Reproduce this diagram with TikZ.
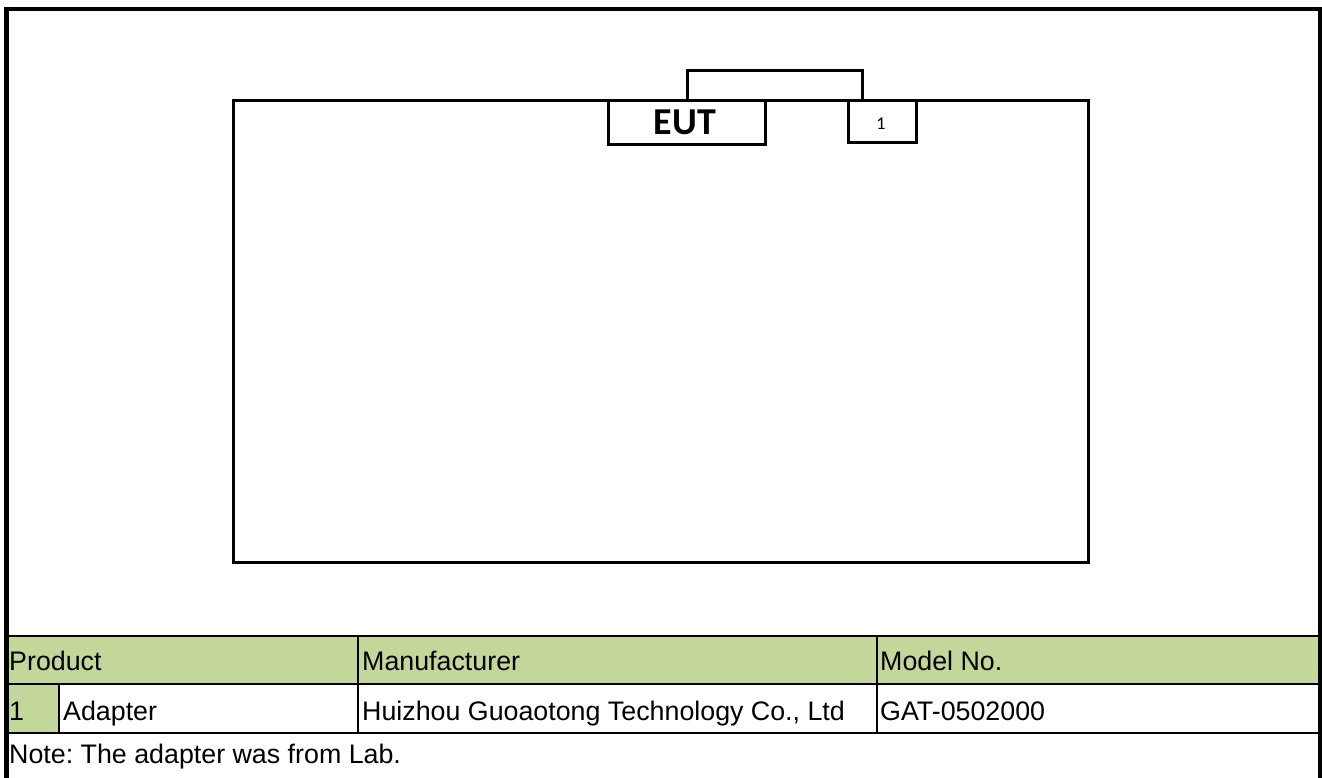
\documentclass[tikz,border=0pt]{standalone}
\usepackage{fontspec}
\setmainfont{Liberation Sans}
\newfontfamily\calfont{Carlito}
\definecolor{hdrgreen}{HTML}{C4D79B}
\frenchspacing
\begin{document}
\begin{tikzpicture}[x=1pt,y=-1pt,
  frameline/.style={line width=4.5pt},
  boxline/.style={line width=3pt},
  tabline/.style={line width=2.6pt},
  celltext/.style={anchor=base west,inner sep=0pt,font=\fontsize{26.8}{30}\selectfont}]
\useasboundingbox (0,0) rectangle (1322,778);
\fill[white] (0,0) rectangle (1322,778);
% table fills
\fill[hdrgreen] (6.5,636) rectangle (1319.5,684);
\fill[hdrgreen] (6.5,684) rectangle (59,733);
% outer frame
\draw[frameline] (6.5,778) -- (6.5,9) -- (1320,9) -- (1320,778);
% EUT box and ports
\draw[boxline] (233,101) rectangle (1088,562);
\draw[boxline,fill=white] (608,101) rectangle (765,145);
\draw[boxline,fill=white] (848,101) rectangle (916,143);
\draw[boxline] (687,101) -- (687,71) -- (862,71) -- (862,101);
\node[anchor=base,inner sep=0pt,font=\calfont\bfseries\fontsize{38}{42}\selectfont] (eut) at (685,135) {EUT};
\node[anchor=base,inner sep=0pt,font=\calfont\fontsize{18}{20}\selectfont] (port1) at (881,130) {1};
% table lines
\draw[tabline] (6.5,636) -- (1320,636);
\draw[tabline] (6.5,684) -- (1320,684);
\draw[tabline] (6.5,733) -- (1320,733);
\draw[tabline] (59,684) -- (59,733);
\draw[tabline] (358,636) -- (358,733);
\draw[tabline] (877,636) -- (877,733);
% texts
\node[celltext] (hprod) at (9,670) {Product};
\node[celltext] (hman) at (362,670) {Manufacturer};
\node[celltext] (hmod) at (880,670) {Model No.};
\node[celltext] (num) at (9,720) {1};
\node[celltext] (prod) at (63,720) {Adapter};
\node[celltext] (man) at (362,720) {Huizhou Guoaotong Technology Co., Ltd};
\node[celltext] (mod) at (880,720) {GAT-0502000};
\node[celltext] (note) at (9,763) {Note: The adapter was from Lab.};
\end{tikzpicture}
\end{document}
